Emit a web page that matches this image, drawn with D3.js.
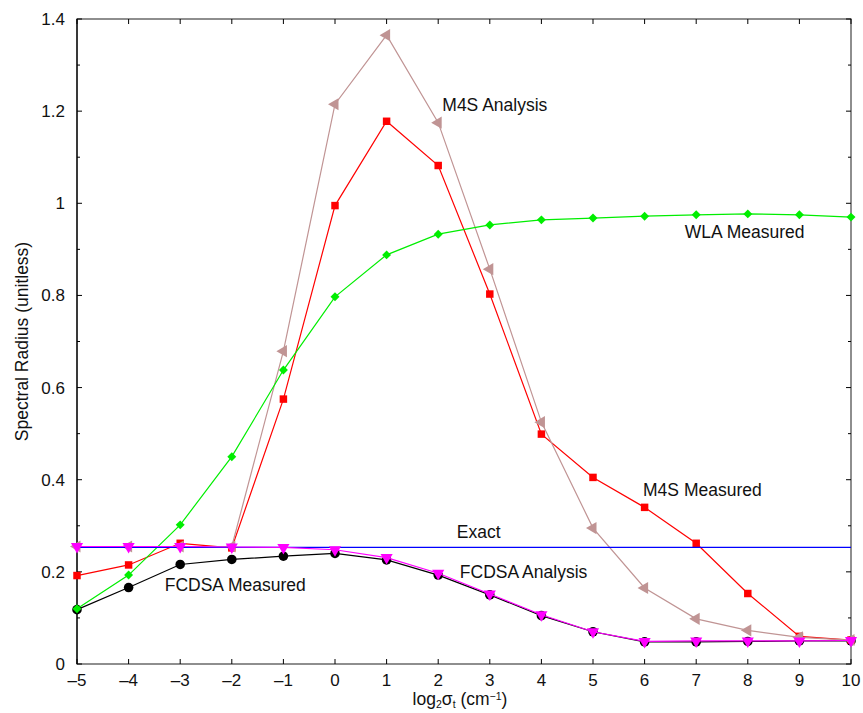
<!DOCTYPE html>
<meta charset="utf-8">
<script src="https://d3js.org/d3.v7.min.js"></script>
<style>
  body { margin: 0; background: #fff; }
  text { font-family: "Liberation Sans", Arial, sans-serif; }
</style>
<div id="chart"></div>
<script>

// x values: log2 of sigma_t
var xs = [-5, -4, -3, -2, -1, 0, 1, 2, 3, 4, 5, 6, 7, 8, 9, 10];

// series values
var fcdsaMeasured = [0.118, 0.166, 0.216, 0.227, 0.234, 0.240, 0.226, 0.193, 0.150, 0.105, 0.070, 0.048, 0.048, 0.049, 0.050, 0.050];
var fcdsaAnalysis = [0.255, 0.255, 0.255, 0.254, 0.253, 0.248, 0.231, 0.197, 0.152, 0.107, 0.070, 0.049, 0.050, 0.050, 0.050, 0.051];
var m4sMeasured   = [0.192, 0.215, 0.262, 0.252, 0.575, 0.995, 1.178, 1.082, 0.803, 0.499, 0.405, 0.340, 0.262, 0.153, 0.060, 0.052];
var m4sAnalysis   = [0.255, 0.255, 0.255, 0.255, 0.679, 1.215, 1.365, 1.175, 0.857, 0.525, 0.295, 0.165, 0.098, 0.073, 0.058, 0.052];
var wlaMeasured   = [0.120, 0.193, 0.302, 0.450, 0.638, 0.797, 0.888, 0.933, 0.953, 0.964, 0.968, 0.972, 0.975, 0.977, 0.975, 0.970];
var exactValue    = 0.253;

var xTicks = d3.range(-5, 11, 1);
var yTicks = [0, 0.2, 0.4, 0.6, 0.8, 1, 1.2, 1.4];
var yMinor = d3.range(0.1, 1.4, 0.2);

var W = 863, H = 713;
var margin = {top: 19, right: 12, bottom: 49, left: 77};
var width = W - margin.left - margin.right,
    height = H - margin.top - margin.bottom;

var svg = d3.select("#chart").append("svg")
    .attr("width", W).attr("height", H);
var g = svg.append("g")
    .attr("transform", "translate(" + margin.left + "," + margin.top + ")");

var x = d3.scaleLinear().domain([-5, 10]).range([0, width]);
var y = d3.scaleLinear().domain([0, 1.4]).range([height, 0]);

// frame
g.append("rect")
  .attr("width", width).attr("height", height)
  .attr("fill", "none").attr("stroke", "#444").attr("stroke-width", 1.2);
g.append("line").attr("x1", 0).attr("x2", 0).attr("y1", 0).attr("y2", height)
  .attr("stroke", "#000").attr("stroke-width", 1.2);

// ticks, pointing inward on all four sides
var tk = g.append("g").attr("stroke", "#000").attr("stroke-width", 1);
xTicks.forEach(function(t) {
  tk.append("line").attr("x1", x(t)).attr("x2", x(t)).attr("y1", height).attr("y2", height - 5);
  tk.append("line").attr("x1", x(t)).attr("x2", x(t)).attr("y1", 0).attr("y2", 5);
});
yTicks.forEach(function(t) {
  tk.append("line").attr("x1", 0).attr("x2", 5).attr("y1", y(t)).attr("y2", y(t));
  tk.append("line").attr("x1", width).attr("x2", width - 5).attr("y1", y(t)).attr("y2", y(t));
});
yMinor.forEach(function(t) {
  tk.append("line").attr("x1", 0).attr("x2", 3).attr("y1", y(t)).attr("y2", y(t));
  tk.append("line").attr("x1", width).attr("x2", width - 3).attr("y1", y(t)).attr("y2", y(t));
});

// tick labels
g.selectAll(".xl").data(xTicks).enter().append("text")
  .attr("x", function(d) { return x(d); }).attr("y", height + 22)
  .attr("text-anchor", "middle").attr("font-size", 17).attr("fill", "#111")
  .text(function(d) { return d < 0 ? "\u2013" + Math.abs(d) : d; });
g.selectAll(".yl").data(yTicks).enter().append("text")
  .attr("x", -12).attr("y", function(d) { return y(d) + 6; })
  .attr("text-anchor", "end").attr("font-size", 17).attr("fill", "#111")
  .text(function(d) { return d; });

// axis titles
svg.append("text")
  .attr("transform", "translate(28," + (margin.top + height / 2) + ") rotate(-90)")
  .attr("text-anchor", "middle").attr("font-size", 17.5).attr("fill", "#111")
  .text("Spectral Radius (unitless)");

var xt = svg.append("text")
  .attr("x", margin.left + x(2.5) - 4).attr("y", 705)
  .attr("text-anchor", "middle").attr("font-size", 17.5).attr("fill", "#111");
xt.append("tspan").text("log");
xt.append("tspan").attr("font-size", 10.5).attr("dy", 3).text("2");
xt.append("tspan").attr("dy", -3).text("\u03c3");
xt.append("tspan").attr("font-size", 10.5).attr("dy", 3).text("t");
xt.append("tspan").attr("dy", -3).text(" (cm");
xt.append("tspan").attr("font-size", 10.5).attr("dy", -5).text("\u22121");
xt.append("tspan").attr("dy", 5).text(")");

var line = d3.line()
  .x(function(d, i) { return x(xs[i]); })
  .y(function(d) { return y(d); });

function drawSeries(vals, color, symbol, size, rotate) {
  g.append("path").datum(vals)
    .attr("fill", "none").attr("stroke", color).attr("stroke-width", 1.2)
    .attr("d", line);
  g.selectAll(null).data(vals).enter().append("path")
    .attr("d", d3.symbol().type(symbol).size(size))
    .attr("fill", color)
    .attr("transform", function(d, i) {
      return "translate(" + x(xs[i]) + "," + y(d) + ") rotate(" + rotate + ")";
    });
}

drawSeries(fcdsaMeasured, "#000000", d3.symbolCircle, 72, 0);
drawSeries(m4sMeasured, "#ff0000", d3.symbolSquare, 56, 0);
drawSeries(m4sAnalysis, "#c09494", d3.symbolTriangle, 64, -90);
drawSeries(wlaMeasured, "#00ee00", d3.symbolSquare, 40, 45);

// exact value line
g.append("line")
  .attr("x1", 0).attr("x2", width)
  .attr("y1", y(exactValue)).attr("y2", y(exactValue))
  .attr("stroke", "#0000ff").attr("stroke-width", 1.2);

drawSeries(fcdsaAnalysis, "#ff00ff", d3.symbolTriangle, 64, 180);

// curve labels
var labels = [
  {t: "M4S Analysis", x: 2.08, y: 1.200},
  {t: "WLA Measured", x: 6.78, y: 0.925},
  {t: "M4S Measured", x: 5.97, y: 0.365},
  {t: "Exact", x: 2.36, y: 0.2735},
  {t: "FCDSA Analysis", x: 2.42, y: 0.187},
  {t: "FCDSA Measured", x: -3.30, y: 0.158}
];
g.selectAll(".lab").data(labels).enter().append("text")
  .attr("x", function(d) { return x(d.x); })
  .attr("y", function(d) { return y(d.y); })
  .attr("font-size", 17.5).attr("fill", "#111")
  .text(function(d) { return d.t; });

</script>
